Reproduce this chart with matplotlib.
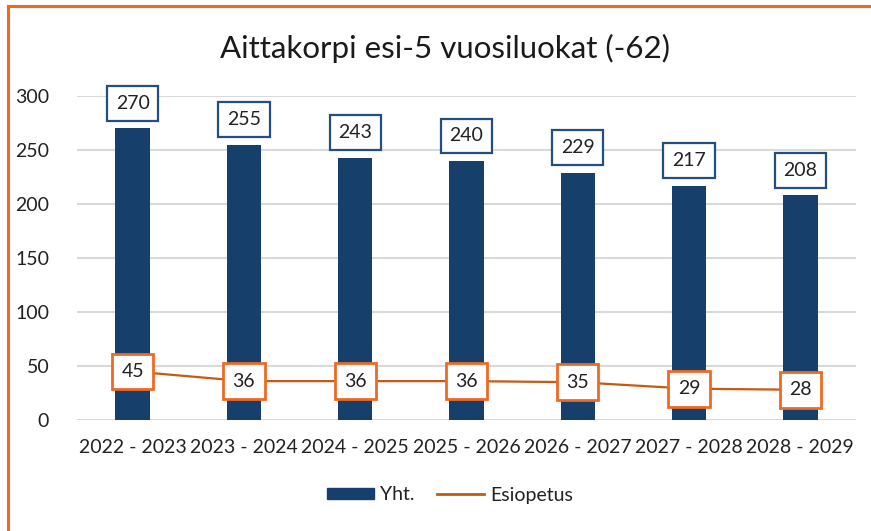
import numpy as np
import matplotlib
matplotlib.use("Agg")
import matplotlib.pyplot as plt
from matplotlib.lines import Line2D

plt.rcParams['font.family'] = ['Lato', 'DejaVu Sans']

# data
years = ['2022 - 2023', '2023 - 2024', '2024 - 2025', '2025 - 2026',
         '2026 - 2027', '2027 - 2028', '2028 - 2029']
yht = [270, 255, 243, 240, 229, 217, 208]
esiopetus = [45, 36, 36, 36, 35, 29, 28]

bar_col = '#173F6C'
line_col = '#C55A11'
box_orange = '#EE6A24'
box_blue = '#234F80'

W, H = 871, 531
fig = plt.figure(figsize=(W / 100, H / 100), dpi=100)
ax = fig.add_axes([77 / W, 1 - 420 / H, (856 - 77) / W, (420 - 96) / H])

x = np.arange(len(years))
ax.bar(x, yht, width=0.31, color=bar_col, zorder=2, label='Yht.')
ax.plot(x, esiopetus, color=line_col, lw=1.6, zorder=3, label='Esiopetus')

for xi, v in zip(x, yht):
    ax.annotate(str(v), (xi, v), xytext=(0, 18), textcoords='offset points',
                ha='center', va='center', fontsize=14, color='#222222', zorder=5,
                bbox=dict(boxstyle='square,pad=0.45', fc='white', ec=box_blue, lw=1.6))

for xi, v in zip(x, esiopetus):
    ax.text(xi, v, str(v), ha='center', va='center', fontsize=14, color='#222222',
            zorder=5,
            bbox=dict(boxstyle='square,pad=0.48', fc='white', ec=box_orange, lw=2))

ax.set_ylim(0, 300)
ax.set_xlim(-0.5, len(years) - 0.5)
ax.set_yticks(range(0, 301, 50))
ax.set_xticks(x)
ax.set_xticklabels(years)
ax.tick_params(axis='both', length=0, labelsize=14, colors='#222222')
ax.tick_params(axis='x', pad=14)
ax.tick_params(axis='y', pad=20)
ax.grid(axis='y', color='#D9D9D9', lw=1.5, zorder=0)
for s in ax.spines.values():
    s.set_visible(False)

fig.text(445 / W, 1 - 48 / H, 'Aittakorpi esi-5 vuosiluokat (-62)', ha='center',
         va='center', fontsize=22.5, color='#1a1a1a')

handles = [plt.Rectangle((0, 0), 1, 1, color=bar_col),
           Line2D([0], [0], color=line_col, lw=2)]
fig.legend(handles, ['Yht.', 'Esiopetus'], loc='center', ncol=2,
           bbox_to_anchor=(450 / W, 1 - 495 / H), frameon=False, fontsize=14,
           handlelength=2.4, handleheight=0.5, handletextpad=0.3, columnspacing=1.2,
           labelcolor='#222222')

# orange frame (top and left edges visible)
fig.add_artist(Line2D([8 / W, 1], [1 - 6 / H, 1 - 6 / H], color='#F26A21', lw=2.2))
fig.add_artist(Line2D([8 / W, 8 / W], [0, 1 - 6 / H], color='#F26A21', lw=2.2))

fig.savefig('out.png', dpi=100)
